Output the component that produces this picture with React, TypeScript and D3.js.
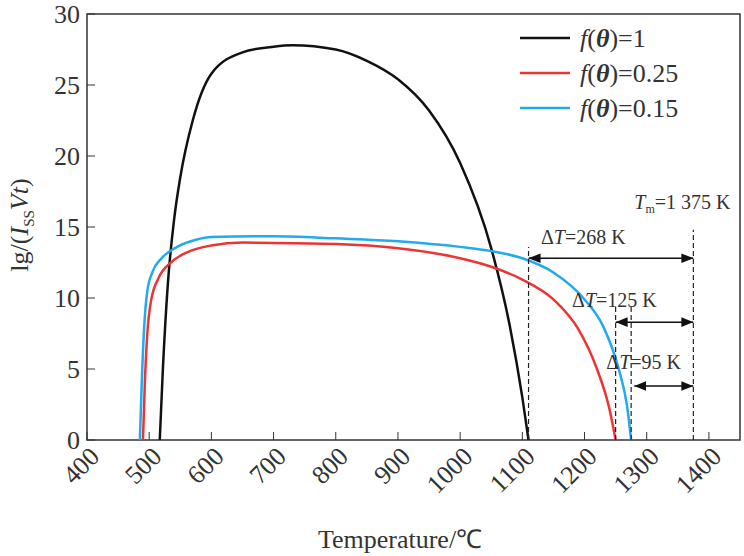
import * as d3 from "d3";

const xTicks = [400, 500, 600, 700, 800, 900, 1000, 1100, 1200, 1300, 1400];
const yTicks = [0, 5, 10, 15, 20, 25, 30];

const blackT = [517, 522, 530, 540, 550, 570, 600, 650, 700, 730, 800, 850, 900, 950, 1000, 1050, 1080, 1100, 1110];
const blackV = [0, 5, 11, 15.5, 18.5, 22.5, 25.8, 27.3, 27.7, 27.8, 27.5, 26.7, 25.4, 23.2, 19.5, 13.5, 8, 3, 0];
const redT = [490, 493, 497, 503, 515, 535, 560, 600, 650, 800, 900, 1000, 1050, 1100, 1150, 1190, 1220, 1240, 1250];
const redV = [0, 4, 7.5, 9.8, 11.4, 12.5, 13.2, 13.7, 13.9, 13.8, 13.5, 12.8, 12.2, 11.3, 9.9, 7.8, 5, 2.2, 0];
const blueT = [485, 488, 492, 497, 505, 520, 545, 575, 600, 700, 800, 900, 1000, 1050, 1100, 1150, 1200, 1230, 1255, 1268, 1275];
const blueV = [0, 4, 8, 10.5, 11.8, 12.8, 13.6, 14.1, 14.3, 14.35, 14.2, 14.0, 13.6, 13.3, 12.8, 11.8, 9.9, 8, 5, 2.5, 0];

const series = [
  { label: "=1", color: "#111", t: blackT, v: blackV },
  { label: "=0.25", color: "#ee3333", t: redT, v: redV },
  { label: "=0.15", color: "#22aaee", t: blueT, v: blueV },
];

const dashX = [1110, 1250, 1275, 1375];
const arrows = [
  { from: 1110, to: 1375, y: 12.8, label: "268 K", lx: 1130, ly: 13.8 },
  { from: 1250, to: 1375, y: 8.3, label: "125 K", lx: 1180, ly: 9.4 },
  { from: 1280, to: 1375, y: 3.8, label: "95 K", lx: 1235, ly: 5 },
];

const font = "'Liberation Serif', 'Times New Roman', serif";

export default function App() {
  const x = d3.scaleLinear().domain([400, 1450]).range([87, 740]);
  const y = d3.scaleLinear().domain([0, 30]).range([440, 14]);
  const ln = d3.line<[number, number]>().x((d) => x(d[0])).y((d) => y(d[1])).curve(d3.curveMonotoneX);
  return (
    <svg width={744} height={556} style={{ position: "absolute", left: 0, top: 0, background: "#fff" }} fontFamily={font}>
      <defs>
        <marker id="ah" viewBox="0 0 10 10" refX={10} refY={5} markerWidth={8} markerHeight={8} orient="auto-start-reverse">
          <path d="M0,1 L10,5 L0,9 Z" fill="#111" />
        </marker>
      </defs>
      <rect x={87} y={14} width={653} height={426} fill="none" stroke="#333" strokeWidth={1.5} />
      {xTicks.map((t) => (
        <g key={t}>
          <line x1={x(t)} x2={x(t)} y1={440} y2={432} stroke="#333" />
          <text transform={`translate(${x(t) + 14},${458}) rotate(-45)`} textAnchor="end" fontSize={26} fill="#333">{t}</text>
        </g>
      ))}
      {yTicks.map((t) => (
        <g key={t}>
          <line x1={87} x2={95} y1={y(t)} y2={y(t)} stroke="#333" />
          <text x={80} y={y(t) + 9} textAnchor="end" fontSize={26} fill="#333">{t}</text>
        </g>
      ))}
      <text x={400} y={548} textAnchor="middle" fontSize={26} fill="#333">Temperature/℃</text>
      <text transform="translate(28,225) rotate(-90)" textAnchor="middle" fontSize={26} fill="#333">
        lg/(<tspan fontStyle="italic">I</tspan><tspan fontSize={15} dy={6}>SS</tspan><tspan dy={-6} fontStyle="italic">Vt</tspan>)
      </text>
      {series.map((s) => (
        <path key={s.label} d={ln(s.t.map((t, i) => [t, s.v[i]] as [number, number])) || ""} fill="none" stroke={s.color} strokeWidth={2.5} />
      ))}
      {series.map((s, i) => (
        <g key={s.label}>
          <line x1={520} x2={570} y1={38 + i * 35} y2={38 + i * 35} stroke={s.color} strokeWidth={2.5} />
          <text x={580} y={47 + i * 35} fontSize={26} fill="#333">
            <tspan fontStyle="italic">f</tspan>(<tspan fontStyle="italic" fontWeight="bold">θ</tspan>){s.label}
          </text>
        </g>
      ))}
      {dashX.map((d, i) => (
        <line key={d} x1={x(d)} x2={x(d)} y1={440} y2={y(i === 3 ? 14.8 : i === 0 ? 13.6 : 9.4)} stroke="#222" strokeDasharray="5,3" strokeWidth={1.2} />
      ))}
      <text x={x(1280)} y={y(16.3)} fontSize={20} fill="#333">
        <tspan fontStyle="italic">T</tspan><tspan fontSize={12} dy={4}>m</tspan><tspan dy={-4}>=1 375 K</tspan>
      </text>
      {arrows.map((a) => (
        <g key={a.label}>
          <line x1={x(a.from)} x2={x(a.to)} y1={y(a.y)} y2={y(a.y)} stroke="#111" strokeWidth={1.5} markerStart="url(#ah)" markerEnd="url(#ah)" />
          <text x={x(a.lx)} y={y(a.ly)} fontSize={20} fill="#333">
            Δ<tspan fontStyle="italic">T</tspan>={a.label}
          </text>
        </g>
      ))}
    </svg>
  );
}
